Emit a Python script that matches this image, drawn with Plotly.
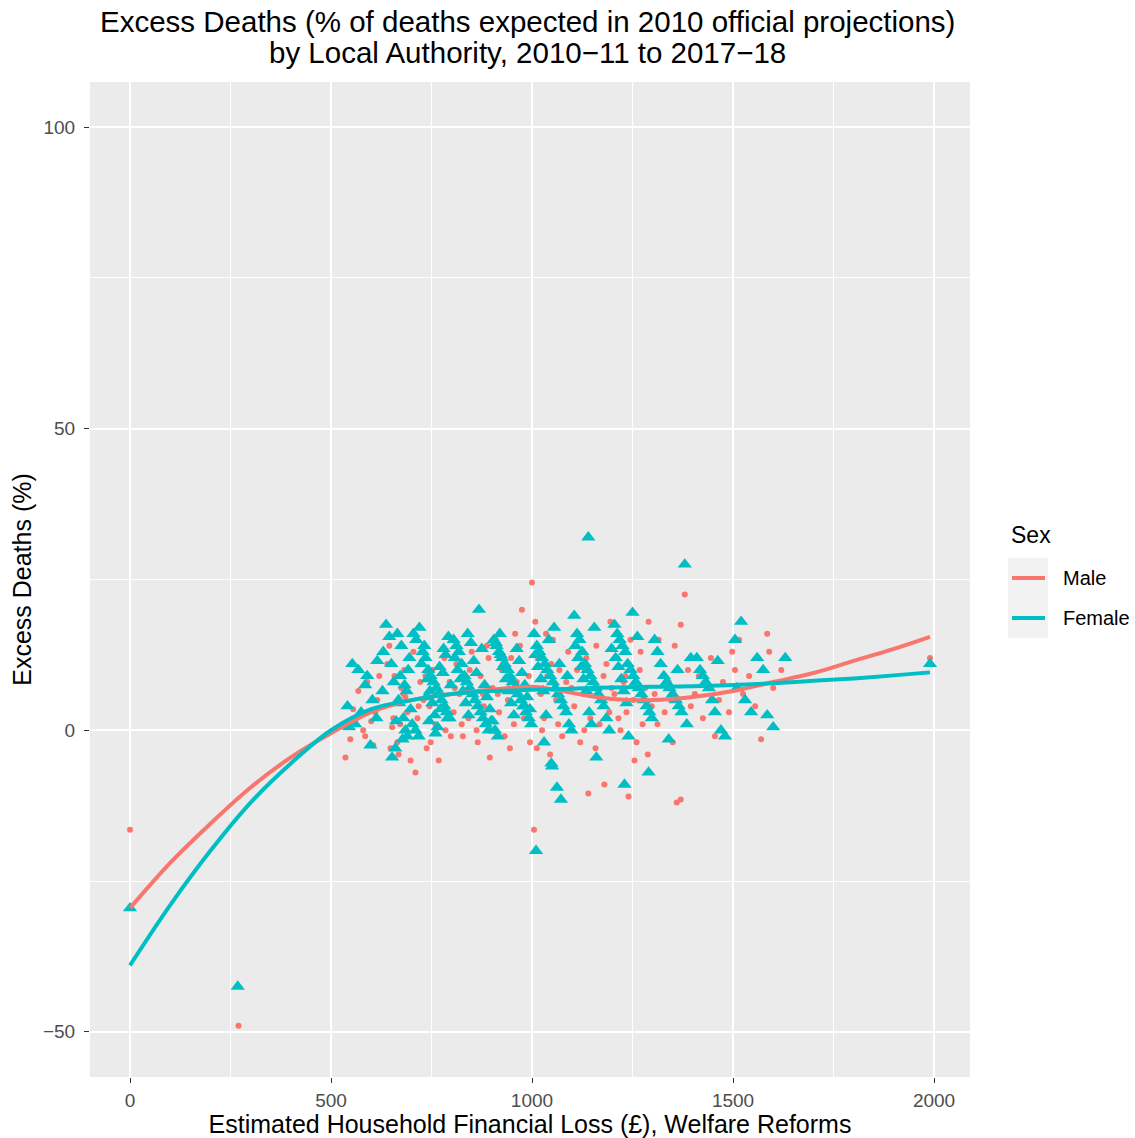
import plotly.graph_objects as go

# ---- data ----
female_x = [541,553,568,585,598,613,628,637,630,615,603,575,560,590,545,
 645,652,660,665,672,668,680,685,690,695,656,662,675,688,698,650,678,692,683,670,
 705,712,720,728,735,742,748,755,762,768,775,782,788,795,702,710,718,725,732,740,746,752,758,765,772,778,785,792,798,738,744,760,770,780,790,
 805,812,818,825,832,838,845,852,858,865,872,878,885,892,868,808,815,822,828,835,842,848,855,862,882,888,895,898,875,840,
 905,912,918,925,932,938,945,952,958,965,972,978,985,992,998,908,915,922,928,935,942,948,955,962,968,975,982,988,995,902,910,920,940,960,980,
 1005,1012,1018,1025,1032,1038,1045,1052,1058,1065,1072,1078,1085,1092,1098,1030,1048,1050,1062,1072,1010,1008,1015,1022,1028,1035,1042,1055,1068,1088,
 1140,1105,1112,1118,1125,1132,1138,1145,1152,1158,1165,1172,1178,1185,1192,1160,1108,1115,1122,1128,1135,1142,1148,1155,1198,
 1250,1205,1212,1218,1225,1232,1238,1245,1252,1258,1265,1272,1278,1285,1292,1298,1240,1290,1230,1208,1215,1222,1228,1235,1262,
 1380,1305,1312,1320,1328,1335,1342,1350,1358,1365,1372,1385,1340,1362,1395,
 1410,1418,1425,1432,1440,1448,1455,1470,1480,1462,
 1520,1505,1560,1575,1510,1530,1545,1600,1585,1630,
 0,268,1990]
female_y = [4,11,10,7.5,-2.5,2,6.5,17.5,13,11.5,5,3,1,9,0.5,
 15.5,-4.5,-3,16,9,5,2,0,-1,12,8,1.5,14,6.5,3.5,11,-1.5,10,7.5,4.5,
 16,15,17,13,12,10,9,8,7,6,5,4,3,2,1,0,-1,11,14,8.5,6.5,4.5,2.5,0.5,3.5,9.5,12.5,15.5,7.5,5.5,1.5,-0.5,10.5,13.5,2,
 15,14,13,11,9,8,7,6,5,4,3,2,1,0,20,12,10,8.5,6.5,4.5,2.5,14.5,11.5,9.5,7.5,5.5,3.5,1.5,13.5,16,
 15,14,13,12,11,10,9,8,7,6,5,4,3,2,1,0,-1,12.5,10.5,8.5,6.5,4.5,2.5,13.5,11.5,9.5,7.5,5.5,3.5,1.5,14.5,16,10,7,4,
 16,14,13,12,11,10,9,8,7,6,5,4,3,1,0,-2,-5.5,-6,-9.5,-11.5,-20,12.5,10.5,8.5,6.5,2.5,15,17,11,9,
 32,19,16,15,13,11,10,9,8,7,6,5,4,2,0,-4.5,14,12,10.5,8.5,6.5,3,1,17,13.5,
 19.5,17.5,16,15,14,13,11,10,9,8,7,6,5,4,3,2,-1,-7,-9,12,10.5,8.5,6.5,4.5,15.5,
 27.5,15,13,11,9,8,7,6,5,4,3,1,-1.5,10,12,
 12,10,9,8,7,5,3,0,-1,11.5,
 18,15,12,10,7,5,3,0.5,2.5,12,
 -29.5,-42.5,11]

male_x = [0,270,1990,
 536,548,563,568,590,605,615,600,555,580,620,585,610,
 640,648,655,662,668,675,682,690,698,645,658,672,685,695,652,665,680,
 710,715,722,730,738,745,752,760,768,775,782,790,798,705,718,735,748,765,785,795,
 805,812,820,828,835,842,850,858,865,872,880,888,895,808,825,845,862,878,892,
 902,910,918,925,932,940,948,955,962,970,975,985,992,905,915,928,945,958,980,995,
 1000,1005,1008,1015,1022,1030,1038,1045,1052,1060,1068,1075,1082,1090,1098,1012,1025,1035,1048,1065,1085,
 1105,1112,1120,1128,1140,1135,1145,1152,1160,1168,1175,1180,1185,1192,1198,1115,1130,1158,1178,1195,
 1205,1212,1220,1228,1240,1235,1245,1252,1260,1268,1275,1282,1290,1298,1215,1232,1255,1270,1288,
 1305,1312,1320,1330,1340,1350,1360,1370,1370,1380,1345,1355,1388,1395,1315,
 1405,1415,1425,1435,1445,1455,1465,1475,1490,1498,
 1505,1515,1525,1540,1555,1570,1585,1600,1620,1590]
male_y = [-16.5,-49,12,
 -4.5,-1.5,2,6.5,8,-2.5,5,1.5,3.5,0,9,-1,3,
 11,-3,2,4.5,-4,7,10,3,-5,14,9,1,5.5,12,0.5,-2,6,
 -7,2,8,5,-3,4,10,1,-5,6,12,3,-1,13,4,9,-2,7,0,8,
 3,11,6,-1,8,2,13,5,-2,9,4,14,-4.5,7,1,10,0,6,12,
 7,15,3,10,-1,5,12,1,8,14,20,4,9,0,6,11,-3,16,2,-2,
 24.5,-16.5,18,12,6,2,9,-4,15,5,10,-1,3,13,7,-3,0,16,11,1,8,
 4,10,-2,6,-10.5,12,2,8,14,1,5,-9,11,3,7,16,0,-3,9,18,
 6,12,0,8,-11,3,15,5,-2,10,1,7,18,4,2,9,-5,13,-4,
 6,1,11,3,8,-2,-12,-11.5,17.5,22.5,5,14,10,4,15,
 6,9,2,7,12,-1,5,8,3,13,
 10,15,6,9,4,-1.5,16,7,10,13]

# smooth (loess) curves
smooth_x = [0,100,200,300,400,500,600,700,800,900,1000,1050,1100,1150,1200,1300,1400,1500,1600,1700,1800,1900,1990]
male_smooth = [-29.5,-22,-15.5,-9.5,-4.5,-0.5,3,5,6,6.7,7.2,6.8,6.2,5.6,5.2,5.0,5.5,6.5,8,9.5,11.5,13.5,15.5]
female_smooth = [-39,-29,-20,-12,-5.5,0,3.5,5,6,6.5,6.7,6.8,6.9,7,7.1,7.2,7.3,7.5,7.8,8.2,8.6,9.1,9.6]

x_ticks = [0, 500, 1000, 1500, 2000]
x_ticklabels = ["0", "500", "1000", "1500", "2000"]
y_ticks = [-50, 0, 50, 100]
y_ticklabels = ["\u221250", "0", "50", "100"]

title_lines = ["Excess Deaths (% of deaths expected in 2010 official projections)",
               "by Local Authority, 2010\u221211 to 2017\u221218"]
legend_title = "Sex"
legend_names = ["Male", "Female"]

MALE = "#F8766D"
FEMALE = "#00BFC4"
colors = [MALE, FEMALE]

# layout geometry (page pixels; body margin removed by post_script)
W, H = 1135, 1138
L, T = 90, 82
pw, ph = 880, 995
R, B = W - L - pw, H - T - ph


def px(fx):
    return (fx - L) / pw


def py(fy):
    return (T + ph - fy) / ph


fig = go.Figure()
fig.add_trace(go.Scatter(x=male_x, y=male_y, mode="markers", name="Male", showlegend=False,
                         marker=dict(color=MALE, size=6, symbol="circle", line=dict(width=0))))
fig.add_trace(go.Scatter(x=female_x, y=female_y, mode="markers", name="Female", showlegend=False,
                         marker=dict(color=FEMALE, size=12.5, symbol="triangle-up", line=dict(width=0))))
fig.add_trace(go.Scatter(x=smooth_x, y=male_smooth, mode="lines", name="Male", showlegend=False,
                         line=dict(color=MALE, width=4, shape="spline")))
fig.add_trace(go.Scatter(x=smooth_x, y=female_smooth, mode="lines", name="Female", showlegend=False,
                         line=dict(color=FEMALE, width=4, shape="spline")))

ann = []
for txt, ypix in zip(title_lines, [22, 53]):
    ann.append(dict(text=txt, xref="paper", yref="paper",
                    x=px(527), y=py(ypix), xanchor="center", yanchor="middle",
                    showarrow=False, font=dict(size=29.5, color="black")))

# manual ggplot-style legend
shapes = [dict(type="rect", xref="paper", yref="paper", x0=px(1008), x1=px(1048),
               y0=py(638), y1=py(558), fillcolor="#F2F2F2", line=dict(width=0), layer="below")]
ann.append(dict(text=legend_title, xref="paper", yref="paper", x=px(1009), y=py(535),
                xanchor="left", yanchor="middle", showarrow=False, font=dict(size=23, color="black")))
for i, (name, col) in enumerate(zip(legend_names, colors)):
    yy = 578 + 40 * i
    shapes.append(dict(type="line", xref="paper", yref="paper", x0=px(1012), x1=px(1045),
                       y0=py(yy), y1=py(yy), line=dict(color=col, width=4)))
    ann.append(dict(text=name, xref="paper", yref="paper", x=px(1061), y=py(yy),
                    xanchor="left", yanchor="middle", showarrow=False, font=dict(size=20, color="black")))

fig.update_layout(
    width=W, height=H,
    margin=dict(l=L, r=R, t=T, b=B, autoexpand=False),
    paper_bgcolor="white",
    plot_bgcolor="#EBEBEB",
    font=dict(family="Liberation Sans, Arial, sans-serif", color="black"),
    annotations=ann,
    shapes=shapes,
    showlegend=False,
)
fig.update_xaxes(range=[-99.5, 2089.5], tickvals=x_ticks, ticktext=x_ticklabels,
                 automargin=False,
                 showgrid=True, gridcolor="white", gridwidth=1.6, zeroline=False,
                 ticks="outside", ticklen=5, tickcolor="#333333", tickwidth=1,
                 tickfont=dict(size=19, color="#4D4D4D"), ticklabelstandoff=1,
                 minor=dict(tickvals=[250, 750, 1250, 1750], showgrid=True, gridcolor="white", gridwidth=0.8, ticks=""),
                 title=dict(text="Estimated Household Financial Loss (£), Welfare Reforms",
                            font=dict(size=25, color="black"), standoff=2))
fig.update_yaxes(range=[-57.5, 107.5], tickvals=y_ticks, ticktext=y_ticklabels,
                 automargin=False,
                 showgrid=True, gridcolor="white", gridwidth=1.6, zeroline=False,
                 ticks="outside", ticklen=5, tickcolor="#333333", tickwidth=1,
                 tickfont=dict(size=19, color="#4D4D4D"), ticklabelstandoff=5,
                 minor=dict(tickvals=[-25, 25, 75], showgrid=True, gridcolor="white", gridwidth=0.8, ticks=""),
                 title=dict(text="Excess Deaths (%)", font=dict(size=25, color="black"), standoff=4))

fig.write_html("out.html", config={"displayModeBar": False},
               post_script="document.body.style.margin='0px';document.body.style.overflow='hidden';")
